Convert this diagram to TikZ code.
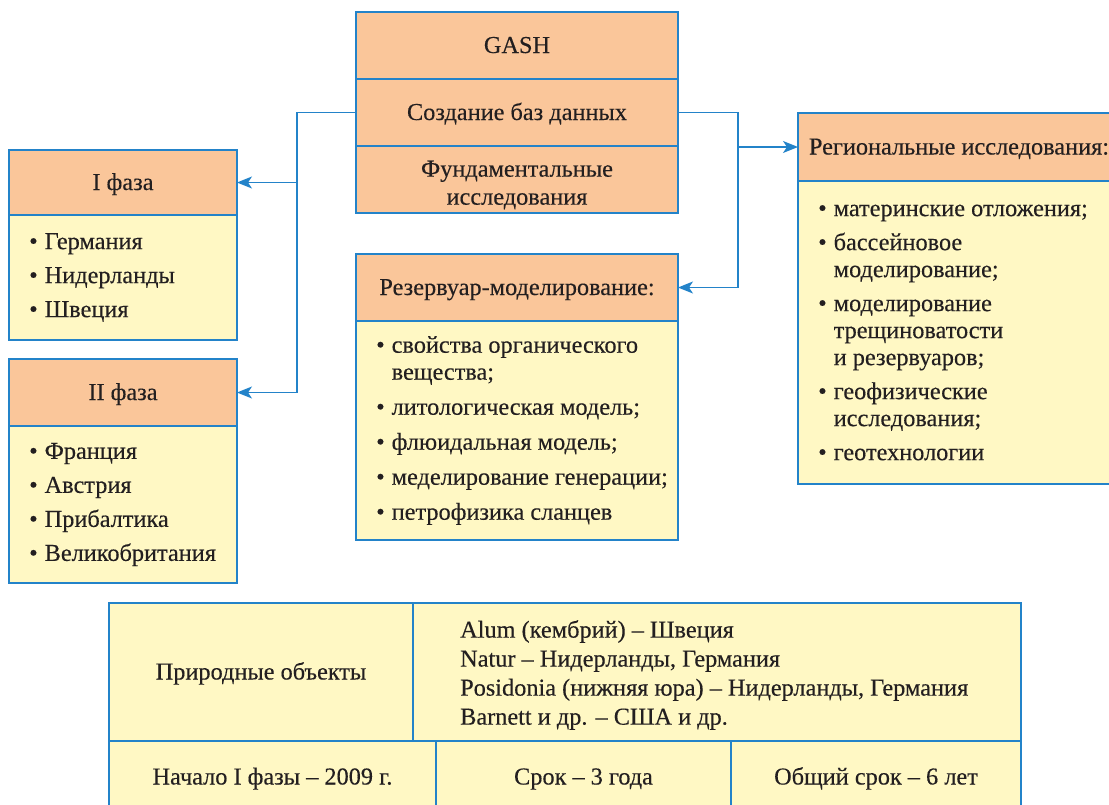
\documentclass[tikz,border=0pt]{standalone}
\usepackage{fontspec}
\newfontfamily\diagfont[FakeBold=0.3]{Liberation Serif}
\usetikzlibrary{arrows.meta, positioning}

\definecolor{boxline}{RGB}{35,131,201}
\definecolor{headfill}{RGB}{250,198,154}
\definecolor{bodyfill}{RGB}{255,248,196}
\definecolor{textdark}{RGB}{35,31,32}

\newcommand{\bul}{\textbullet\hspace{7pt}}
\newcommand{\cont}{\hphantom{\textbullet}\hspace{7pt}}

\tikzset{
  head/.style={draw=boxline, fill=headfill, line width=1.2pt, inner sep=0pt, outer sep=0pt, align=center, anchor=north west},
  bodybox/.style={draw=boxline, fill=bodyfill, line width=1.2pt, inner sep=0pt, outer sep=0pt, align=center, anchor=north west},
  oneline/.style={text height=17pt, text depth=2pt},
  bodytext/.style={anchor=west, align=left, inner sep=0pt, xshift=20pt},
  link/.style={draw=boxline, line width=1.3pt},
  arrowlink/.style={link, -{Stealth[length=15pt, width=12pt, inset=4pt]}}
}

\begin{document}
\begin{tikzpicture}[x=1pt, y=-1pt, font=\fontsize{24.3}{27}\selectfont\diagfont, text=textdark]
\useasboundingbox (0,0) rectangle (1109,804);
% GASH stack
\node[head, oneline, minimum width=322, minimum height=67] (gash) at (356,12) {GASH};
\node[head, oneline, minimum width=322, minimum height=67, below=0pt of gash] (gashdb) {Создание баз данных};
\node[head, minimum width=322, minimum height=67, below=0pt of gashdb] (gashfund) {\rule{0pt}{27pt}Фундаментальные\\[1pt]исследования};
% Phase I
\node[head, oneline, minimum width=228, minimum height=65] (phaseone) at (9,150) {I фаза};
\node[bodybox, minimum width=228, minimum height=125, below=0pt of phaseone] (phaseonebody) {};
\node[bodytext] (phaseonelist) at (phaseonebody.west) {\bul Германия\\[7pt]\bul Нидерланды\\[7pt]\bul Швеция};
% Phase II
\node[head, oneline, minimum width=228, minimum height=67] (phasetwo) at (9,359) {II фаза};
\node[bodybox, minimum width=228, minimum height=157, below=0pt of phasetwo] (phasetwobody) {};
\node[bodytext] (phasetwolist) at (phasetwobody.west) {\bul Франция\\[7pt]\bul Австрия\\[7pt]\bul Прибалтика\\[7pt]\bul Великобритания};
% Reservoir modelling
\node[head, oneline, minimum width=322, minimum height=67] (reservoir) at (356,254) {Резервуар-моделирование:};
\node[bodybox, minimum width=322, minimum height=219, below=0pt of reservoir] (reservoirbody) {};
\node[bodytext] (reservoirlist) at (reservoirbody.west) {\bul свойства органического\\\cont вещества;\\[8pt]\bul литологическая модель;\\[8pt]\bul флюидальная модель;\\[8pt]\bul меделирование генерации;\\[8pt]\bul петрофизика сланцев};
% Regional studies
\node[head, oneline, minimum width=322, minimum height=68] (regional) at (798,113) {Региональные исследования:};
\node[bodybox, minimum width=322, minimum height=303, below=0pt of regional] (regionalbody) {};
\node[bodytext] (regionallist) at (regionalbody.west) {\bul материнские отложения;\\[7pt]\bul бассейновое\\\cont моделирование;\\[7pt]\bul моделирование\\\cont трещиноватости\\\cont и резервуаров;\\[7pt]\bul геофизические\\\cont исследования;\\[7pt]\bul геотехнологии};
% Connectors on the left
\coordinate (leftbus) at (297,0);
\draw[arrowlink] (gashdb.west) -| (leftbus |- phasetwo.east) -- (phasetwo.east);
\draw[arrowlink] (leftbus |- phaseone.east) -- (phaseone.east);
% Connectors on the right
\coordinate (rightbus) at (738,0);
\draw[arrowlink] (gashdb.east) -| (rightbus |- reservoir.east) -- (reservoir.east);
\draw[arrowlink] (rightbus |- regional.west) -- (regional.west);
% Bottom table
\node[bodybox, oneline, minimum width=304, minimum height=138] (objects) at (109,603) {Природные объекты};
\node[bodybox, minimum width=608, minimum height=138, right=0pt of objects] (objectlist) {};
\node[bodytext, xshift=27pt, yshift=-3pt] (objectlines) at (objectlist.west) {Alum (кембрий) – Швеция\\[2pt]Natur – Нидерланды, Германия\\[2pt]Posidonia (нижняя юра) – Нидерланды, Германия\\[2pt]Barnett и др. – США и др.};
\node[bodybox, oneline, minimum width=327, minimum height=72] (start) at (109,741) {Начало I фазы – 2009 г.};
\node[bodybox, oneline, minimum width=295, minimum height=72, right=0pt of start] (term) {Срок – 3 года};
\node[bodybox, oneline, minimum width=290, minimum height=72, right=0pt of term] (total) {Общий срок – 6 лет};
\end{tikzpicture}
\end{document}
